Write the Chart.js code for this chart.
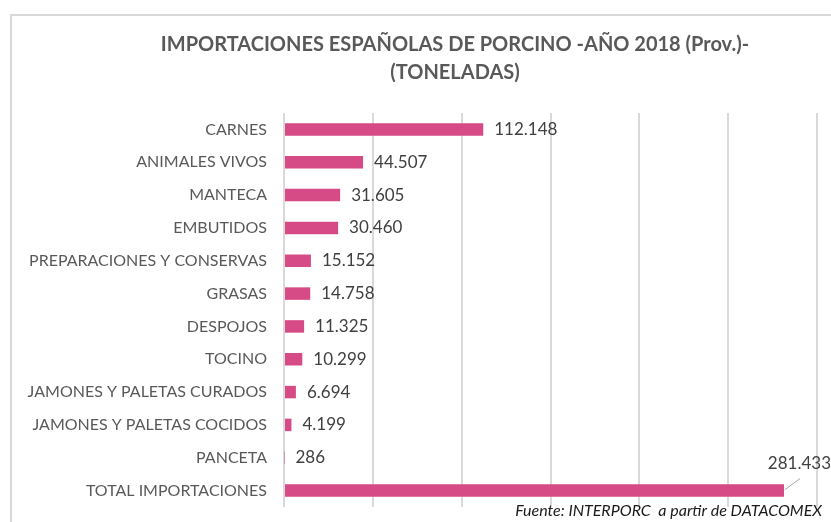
<!DOCTYPE html>
<html>
<head>
<meta charset="utf-8">
<script src="https://cdn.jsdelivr.net/npm/chart.js@4"></script>
<style>
  html, body { margin: 0; padding: 0; background: #fff; }
  #wrap { position: relative; width: 831px; height: 522px; overflow: hidden; }
  #frame { position: absolute; left: 10px; top: 14px; width: 900px; height: 600px;
           border-left: 2px solid #D9D9D9; border-top: 2px solid #D9D9D9; }
  canvas { position: absolute; left: 0; top: 0; }
</style>
</head>
<body>
<div id="wrap">
  <div id="frame"></div>
  <canvas id="c" width="831" height="522"></canvas>
</div>
<script>
// Spanish pork imports 2018 (provisional), tonnes
const categories = [
  'CARNES',
  'ANIMALES VIVOS',
  'MANTECA',
  'EMBUTIDOS',
  'PREPARACIONES Y CONSERVAS',
  'GRASAS',
  'DESPOJOS',
  'TOCINO',
  'JAMONES Y PALETAS CURADOS',
  'JAMONES Y PALETAS COCIDOS',
  'PANCETA',
  'TOTAL IMPORTACIONES'
];
const tonnes = [112148, 44507, 31605, 30460, 15152, 14758, 11325, 10299, 6694, 4199, 286, 281433];
const titleLines = ['IMPORTACIONES ESPAÑOLAS DE PORCINO -AÑO 2018 (Prov.)-', '(TONELADAS)'];
const sourceNote = 'Fuente: INTERPORC  a partir de DATACOMEX';

const BAR = '#D64A85';
const TEXT = '#595959';
const GRID = '#D9D9D9';
const FONT = 'Lato, "Open Sans", sans-serif';

function fmt(n) {
  return String(n).replace(/\B(?=(\d{3})+(?!\d))/g, '.');
}

// Title, source note and value labels
const annotations = {
  id: 'annotations',
  afterDatasetsDraw(chart) {
    const ctx = chart.ctx;
    ctx.save();
    // title
    ctx.fillStyle = TEXT;
    ctx.font = 'bold 20px ' + FONT;
    ctx.textAlign = 'center';
    ctx.textBaseline = 'middle';
    ctx.fillText(titleLines[0], 455, 45);
    ctx.fillText(titleLines[1], 455, 73);

    // value labels
    const meta = chart.getDatasetMeta(0);
    ctx.font = '17px ' + FONT;
    ctx.fillStyle = '#404040';
    ctx.textAlign = 'left';
    meta.data.forEach((bar, i) => {
      const txt = fmt(tonnes[i]);
      if (i === tonnes.length - 1) {
        // total: label lifted above the bar end with a leader line
        ctx.strokeStyle = '#A6A6A6';
        ctx.lineWidth = 1;
        ctx.beginPath();
        ctx.moveTo(bar.x + 1, bar.y - 1);
        ctx.lineTo(bar.x + 16, bar.y - 12);
        ctx.stroke();
        ctx.textAlign = 'right';
        ctx.fillText(txt, 831, bar.y - 27);
        ctx.textAlign = 'left';
      } else {
        ctx.fillText(txt, bar.x + 11, bar.y);
      }
    });

    // source
    ctx.font = 'italic 16px ' + FONT;
    ctx.fillStyle = '#1A1A1A';
    ctx.textAlign = 'right';
    ctx.fillText(sourceNote, 822, 511);
    ctx.restore();
  }
};

new Chart(document.getElementById('c'), {
  type: 'bar',
  data: {
    labels: categories,
    datasets: [{
      data: tonnes,
      backgroundColor: BAR,
      borderWidth: 0,
      categoryPercentage: 1,
      barPercentage: 0.38
    }]
  },
  options: {
    indexAxis: 'y',
    responsive: false,
    animation: false,
    layout: { padding: { top: 113, right: 14, bottom: 15, left: 0 } },
    plugins: {
      legend: { display: false },
      title: { display: false },
      tooltip: { enabled: false }
    },
    scales: {
      x: {
        min: 0,
        max: 300000,
        ticks: { display: false, stepSize: 50000 },
        grid: { color: GRID, lineWidth: 2, drawTicks: false },
        border: { display: false },
        afterFit(scale) { scale.height = 0; }
      },
      y: {
        ticks: {
          color: TEXT,
          font: { family: FONT, size: 16 },
          padding: 17
        },
        grid: { display: false, drawTicks: false },
        border: { display: false },
        afterFit(scale) {
          scale.width = 284;
          // labels sit inside the category bands, no extra room needed above/below
          scale.paddingTop = 0;
          scale.paddingBottom = 0;
        }
      }
    }
  },
  plugins: [annotations]
});
</script>
</body>
</html>
